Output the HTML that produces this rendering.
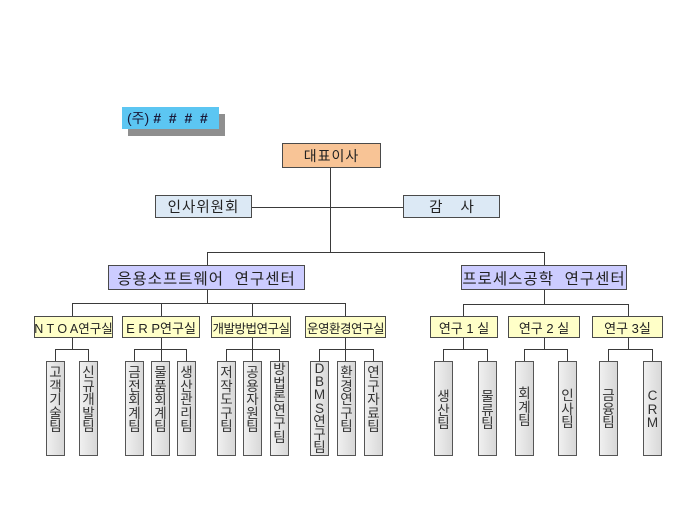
<!DOCTYPE html>
<html><head><meta charset="utf-8"><style>
html,body{margin:0;padding:0;background:#fff;}
body{width:680px;height:510px;position:relative;overflow:hidden;font-family:"Liberation Sans","Noto Sans CJK KR","NanumGothic",sans-serif;color:#222;}
.b{position:absolute;box-sizing:border-box;border:1px solid #4a4a4a;display:flex;align-items:center;justify-content:center;white-space:pre;}
.lv3{background:#ffffc8;top:316px;height:22px;font-size:12.5px;}
.ctr{background:#ccccff;top:265px;height:25px;font-size:15.5px;}
.v{position:absolute;box-sizing:border-box;border:1px solid #555;top:361px;width:19px;height:95px;background:linear-gradient(to right,#f0f0f0,#d8d8d8);font-size:13.5px;line-height:13.6px;text-align:center;color:#333;}
svg{position:absolute;left:0;top:0;}
</style></head><body>
<svg width="680" height="510" shape-rendering="crispEdges">
<g stroke="#3a3a3a" stroke-width="1" fill="none">
<line x1="330.5" y1="168" x2="330.5" y2="253"/>
<line x1="252" y1="207.5" x2="403" y2="207.5"/>
<line x1="207" y1="252.5" x2="545" y2="252.5"/>
<line x1="207.5" y1="252" x2="207.5" y2="265"/>
<line x1="544.5" y1="252" x2="544.5" y2="265"/>
<line x1="207.5" y1="289" x2="207.5" y2="304"/>
<line x1="72" y1="303.5" x2="346" y2="303.5"/>
<line x1="72.5" y1="303" x2="72.5" y2="316"/>
<line x1="161.5" y1="303" x2="161.5" y2="316"/>
<line x1="252.5" y1="303" x2="252.5" y2="316"/>
<line x1="345.5" y1="303" x2="345.5" y2="316"/>
<line x1="544.5" y1="289" x2="544.5" y2="305"/>
<line x1="463" y1="304.5" x2="629" y2="304.5"/>
<line x1="463.5" y1="304" x2="463.5" y2="316"/>
<line x1="628.5" y1="304" x2="628.5" y2="316"/>
<line x1="72.5" y1="337" x2="72.5" y2="349"/>
<line x1="55" y1="349.5" x2="89" y2="349.5"/>
<line x1="55.5" y1="349" x2="55.5" y2="361"/>
<line x1="88.5" y1="349" x2="88.5" y2="361"/>
<line x1="161.5" y1="337" x2="161.5" y2="361"/>
<line x1="134" y1="349.5" x2="187" y2="349.5"/>
<line x1="134.5" y1="349" x2="134.5" y2="361"/>
<line x1="186.5" y1="349" x2="186.5" y2="361"/>
<line x1="252.5" y1="337" x2="252.5" y2="361"/>
<line x1="226" y1="349.5" x2="280" y2="349.5"/>
<line x1="226.5" y1="349" x2="226.5" y2="361"/>
<line x1="279.5" y1="349" x2="279.5" y2="361"/>
<line x1="345.5" y1="337" x2="345.5" y2="361"/>
<line x1="319" y1="349.5" x2="374" y2="349.5"/>
<line x1="319.5" y1="349" x2="319.5" y2="361"/>
<line x1="373.5" y1="349" x2="373.5" y2="361"/>
<line x1="463.5" y1="337" x2="463.5" y2="349"/>
<line x1="443" y1="349.5" x2="488" y2="349.5"/>
<line x1="443.5" y1="349" x2="443.5" y2="361"/>
<line x1="487.5" y1="349" x2="487.5" y2="361"/>
<line x1="544.5" y1="337" x2="544.5" y2="349"/>
<line x1="524" y1="349.5" x2="568" y2="349.5"/>
<line x1="524.5" y1="349" x2="524.5" y2="361"/>
<line x1="567.5" y1="349" x2="567.5" y2="361"/>
<line x1="628.5" y1="337" x2="628.5" y2="349"/>
<line x1="608" y1="349.5" x2="653" y2="349.5"/>
<line x1="608.5" y1="349" x2="608.5" y2="361"/>
<line x1="652.5" y1="349" x2="652.5" y2="361"/>
</g>
</svg>

<div style="position:absolute;left:128px;top:114px;width:97px;height:22px;background:#8f8f8f;"></div>
<div style="position:absolute;left:122px;top:107px;width:97px;height:22px;background:#5cc6f2;font-size:14px;line-height:22px;color:#1a1a3a;white-space:pre;padding-left:5px;box-sizing:border-box;">(주) <b><i>#  #  #  #</i></b></div>

<div class="b" style="left:282px;top:143px;width:99px;height:25px;background:#f8c496;font-size:14px;letter-spacing:1px;">대표이사</div>
<div class="b" style="left:155px;top:195px;width:97px;height:23px;background:#dce9f5;font-size:14.5px;letter-spacing:1px;">인사위원회</div>
<div class="b" style="left:403px;top:195px;width:97px;height:23px;background:#dce9f5;font-size:14.5px;">감<span style="display:inline-block;width:18px"></span>사</div>

<div class="b ctr" style="left:108px;width:197px;letter-spacing:1px;">응용소프트웨어  연구센터</div>
<div class="b ctr" style="left:461px;width:166px;letter-spacing:1px;">프로세스공학  연구센터</div>

<div class="b lv3" style="left:34px;width:79px;">N T O A연구실</div>
<div class="b lv3" style="left:122px;width:78px;font-size:13px;">E R P연구실</div>
<div class="b lv3" style="left:211px;width:80px;letter-spacing:-0.5px;">개발방법연구실</div>
<div class="b lv3" style="left:305px;width:81px;letter-spacing:-0.5px;">운영환경연구실</div>
<div class="b lv3" style="left:430px;width:68px;font-size:13px;">연구 1 실</div>
<div class="b lv3" style="left:508px;width:72px;font-size:13px;">연구 2 실</div>
<div class="b lv3" style="left:592px;width:71px;font-size:13px;">연구 3실</div>

<div class="v" style="left:46px;padding-top:4px;">고<br>객<br>기<br>술<br>팀</div>
<div class="v" style="left:79px;padding-top:4px;">신<br>규<br>개<br>발<br>팀</div>
<div class="v" style="left:125px;padding-top:4px;">금<br>전<br>회<br>계<br>팀</div>
<div class="v" style="left:151px;padding-top:4px;">물<br>품<br>회<br>계<br>팀</div>
<div class="v" style="left:177px;padding-top:4px;">생<br>산<br>관<br>리<br>팀</div>
<div class="v" style="left:217px;padding-top:4px;">저<br>작<br>도<br>구<br>팀</div>
<div class="v" style="left:243px;padding-top:4px;">공<br>용<br>자<br>원<br>팀</div>
<div class="v" style="left:270px;padding-top:1px;">방<br>법<br>론<br>연<br>구<br>팀</div>
<div class="v" style="left:310px;padding-top:0px;line-height:13.2px;">D<br>B<br>M<br>S<br>연<br>구<br>팀</div>
<div class="v" style="left:337px;padding-top:4px;">환<br>경<br>연<br>구<br>팀</div>
<div class="v" style="left:364px;padding-top:4px;">연<br>구<br>자<br>료<br>팀</div>

<div class="v" style="left:434px;padding-top:28px;">생<br>산<br>팀</div>
<div class="v" style="left:478px;padding-top:28px;">물<br>류<br>팀</div>
<div class="v" style="left:515px;padding-top:25px;">회<br>계<br>팀</div>
<div class="v" style="left:558px;padding-top:27px;">인<br>사<br>팀</div>
<div class="v" style="left:599px;padding-top:27px;">금<br>융<br>팀</div>
<div class="v" style="left:643px;padding-top:27px;">C<br>R<br>M</div>
</body></html>
